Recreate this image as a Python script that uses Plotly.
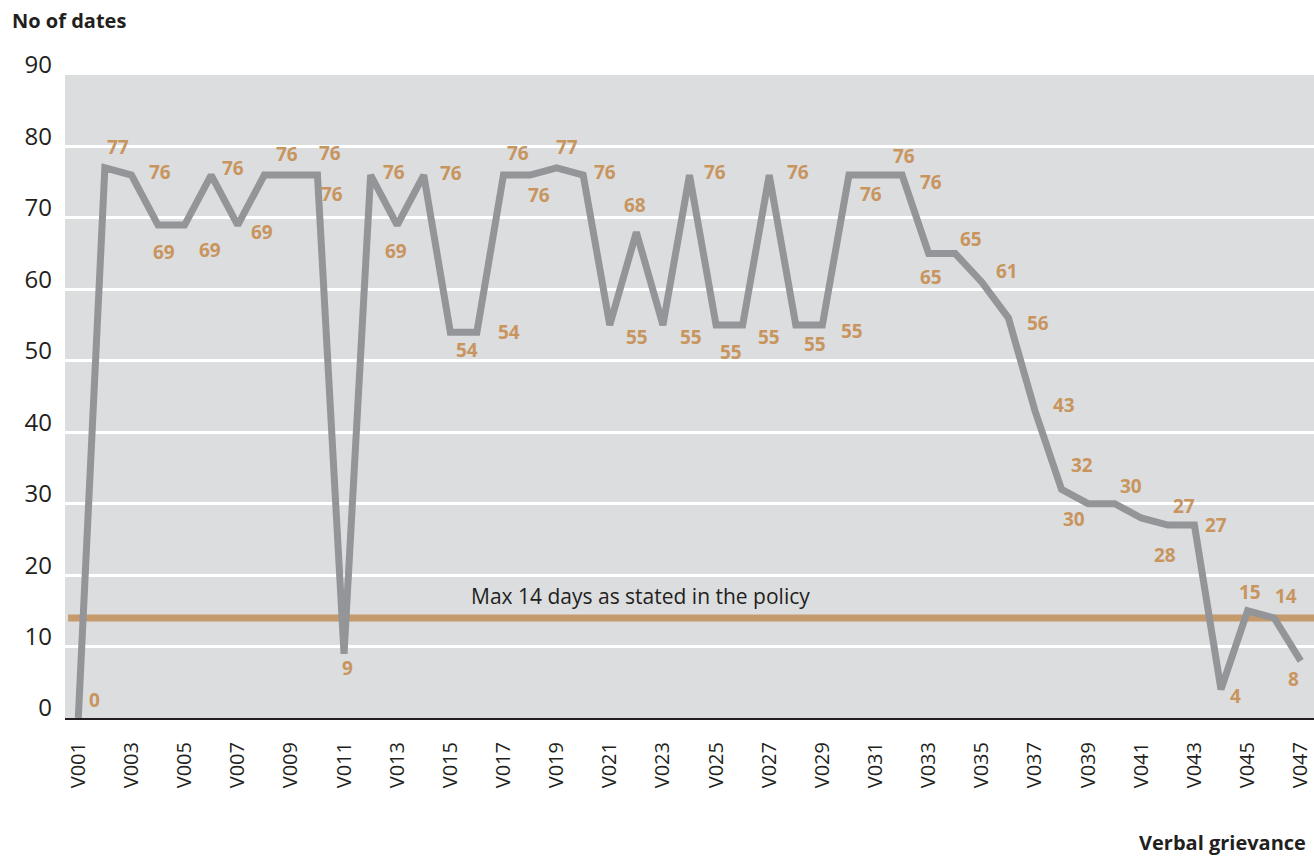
import plotly.graph_objects as go

categories = ["V001", "V002", "V003", "V004", "V005", "V006", "V007", "V008", "V009", "V010",
              "V011", "V012", "V013", "V014", "V015", "V016", "V017", "V018", "V019", "V020",
              "V021", "V022", "V023", "V024", "V025", "V026", "V027", "V028", "V029", "V030",
              "V031", "V032", "V033", "V034", "V035", "V036", "V037", "V038", "V039", "V040",
              "V041", "V042", "V043", "V044", "V045", "V046", "V047"]

no_of_dates = [0, 77, 76, 69, 69, 76, 69, 76, 76, 76,
               9, 76, 69, 76, 54, 54, 76, 76, 77, 76,
               55, 68, 55, 76, 55, 55, 76, 55, 55, 76,
               76, 76, 65, 65, 61, 56, 43, 32, 30, 30,
               28, 27, 27, 4, 15, 14, 8]

policy_max_days = 14
policy_text = "Max 14 days as stated in the policy"

tick_labels = categories[::2]
y_ticks = [0, 10, 20, 30, 40, 50, 60, 70, 80, 90]

# label offsets in pixels (dx right, dy down) -- styling only
label_dx = [16, 13, 29, 6, 25, 22, 24, 23, 39, 15,
            3, 23, -1, 27, 17, 32, 15, 9, 10, 22,
            27, -1, 28, 25, 15, 26, 29, 19, 30, 22,
            28, 29, 2, 16, 25, 30, 29, 20, -14, 16,
            24, 16, 22, 15, 2, 12, -7]
label_dy = [-18, -21, -3, 27, 25, -7, 7, -21, -22, 19,
            14, -3, 26, -2, 18, 0, -22, 20, -21, -3,
            12, -27, 12, -3, 27, 12, -3, 19, 6, 19,
            -19, 7, 23, -15, -11, 5, -6, -24, 15, -18,
            37, -19, 0, 7, -19, -22, 18]

FONT = "Open Sans"
TAN = "#C59A6C"
LABEL_TAN = "#C8955E"
GREY_LINE = "#939598"
DARK = "#231F20"

fig = go.Figure()
fig.add_trace(go.Scatter(
    x=categories, y=no_of_dates, mode="lines",
    line=dict(color=GREY_LINE, width=7),
    hoverinfo="x+y", showlegend=False,
))

fig.add_shape(type="line", xref="paper", yref="y", x0=0.0025, x1=1,
              y0=policy_max_days, y1=policy_max_days,
              line=dict(color=TAN, width=7), layer="between")

annotations = []
for c, v, dx, dy in zip(categories, no_of_dates, label_dx, label_dy):
    annotations.append(dict(
        x=c, y=v, xref="x", yref="y", text=str(v), showarrow=False,
        xshift=dx, yshift=-dy,
        font=dict(family=FONT, size=19, color=LABEL_TAN, weight="bold"),
    ))

annotations.append(dict(
    x=0.461, y=policy_max_days, xref="paper", yref="y", text=policy_text,
    showarrow=False, yanchor="bottom", yshift=6,
    font=dict(family=FONT, size=21, color=DARK),
))
annotations.append(dict(
    x=-0.044, y=1.0855, xref="paper", yref="paper", text="No of dates",
    showarrow=False, xanchor="left", yanchor="middle",
    font=dict(family=FONT, size=20, color=DARK, weight="bold"),
))
annotations.append(dict(
    x=1, y=-0.193, xref="paper", yref="paper", text="Verbal grievance",
    showarrow=False, xanchor="right", yanchor="middle", xshift=-6,
    font=dict(family=FONT, size=20, color=DARK, weight="bold"),
))

fig.update_layout(
    width=1314, height=856,
    margin=dict(l=65, r=0, t=75, b=138),
    paper_bgcolor="white", plot_bgcolor="#DCDDDF",
    font=dict(family=FONT, color=DARK),
    annotations=annotations,
    xaxis=dict(
        type="category", range=[-0.5, len(categories) - 0.5],
        tickmode="array", tickvals=tick_labels, ticktext=tick_labels,
        tickangle=-90, tickfont=dict(size=20, color=DARK),
        showgrid=False, showline=True, linecolor=DARK, linewidth=2,
        ticks="", ticklabelstandoff=14, zeroline=False,
    ),
    yaxis=dict(
        range=[0, 90], tickmode="array", tickvals=y_ticks,
        tickfont=dict(size=24, color=DARK),
        showgrid=True, gridcolor="white", gridwidth=3,
        zeroline=False, showline=False, ticks="",
        ticklabelshift=-10, ticklabelstandoff=12,
    ),
)

fig.write_html(
    "out.html",
    config={"displayModeBar": False},
    post_script="document.body.style.margin='0';document.body.style.overflow='hidden';",
)
